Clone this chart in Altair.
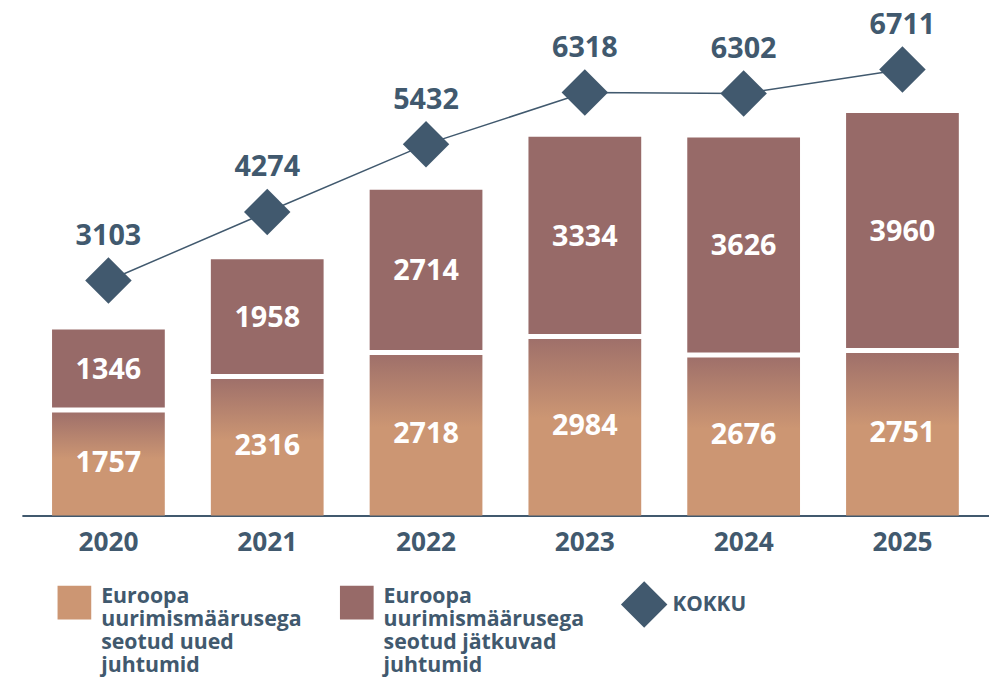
import altair as alt
import pandas as pd

years = ["2020", "2021", "2022", "2023", "2024", "2025"]
uued = [1757, 2316, 2718, 2984, 2676, 2751]
jatkuvad = [1346, 1958, 2714, 3334, 3626, 3960]
kokku = [3103, 4274, 5432, 6318, 6302, 6711]

legend_uued = ["Euroopa", "uurimismäärusega", "seotud uued", "juhtumid"]
legend_jatk = ["Euroopa", "uurimismäärusega", "seotud jätkuvad", "juhtumid"]
legend_kokku = "KOKKU"

C_NEW = "#cc9673"
C_NEW_TOP = "#9f706a"
C_CONT = "#976a68"
C_TOTAL = "#41596e"
FONT = "Open Sans"

df = pd.DataFrame({"year": years, "uued": uued, "jatkuvad": jatkuvad, "kokku": kokku})
df["series"] = "jatkuvad"
df["k"] = legend_kokku
df["mid_new"] = df["uued"] / 2
df["mid_cont"] = df["uued"] + df["jatkuvad"] / 2

W, H = 976, 507
bar_scale = alt.Scale(domain=[0, 8380], nice=False, zero=False)
tot_scale = alt.Scale(domain=[-915, 7678], nice=False, zero=False)

x_enc = alt.X(
    "year:N",
    scale=alt.Scale(paddingInner=0.29, paddingOuter=0.19),
    axis=alt.Axis(
        title=None, ticks=False, domainColor=C_TOTAL, domainWidth=2,
        labelFont=FONT, labelFontSize=26.5, labelFontWeight="bold",
        labelColor=C_TOTAL, labelPadding=14, labelAngle=0,
    ),
)

def lab(lines):
    return "[" + ",".join(["'" + s + "'" for s in lines]) + "]"

label_expr = "datum.value == 'uued' ? " + lab(legend_uued) + " : " + lab(legend_jatk)

base = alt.Chart(df)

top_bars = base.mark_bar(y2Offset=-2.5).encode(
    x=x_enc,
    y=alt.Y("kokku:Q", scale=bar_scale, axis=None),
    y2="uued:Q",
    color=alt.Color(
        "series:N",
        scale=alt.Scale(domain=["uued", "jatkuvad"], range=[C_NEW, C_CONT]),
        legend=alt.Legend(
            title=None, orient="none", legendX=36, legendY=578, direction="horizontal",
            columns=2, columnPadding=38, symbolType="square", symbolSize=1156,
            symbolStrokeWidth=0, labelFont=FONT, labelFontSize=21.5, labelFontWeight="bold",
            labelColor=C_TOTAL, labelOffset=10, labelBaseline="alphabetic",
            labelExpr=label_expr, labelLimit=400, padding=0,
        ),
    ),
)

grad = alt.Gradient(
    gradient="linear",
    stops=[
        alt.GradientStop(color=C_NEW_TOP, offset=0),
        alt.GradientStop(color=C_NEW, offset=0.45),
        alt.GradientStop(color=C_NEW, offset=1),
    ],
    x1=0, x2=0, y1=0, y2=1,
)

bottom_bars = base.mark_bar(yOffset=2.5, fill=grad).encode(
    x=x_enc,
    y=alt.Y("uued:Q", scale=bar_scale, axis=None),
    y2=alt.datum(0),
)

lbl_style = dict(font=FONT, fontSize=29, fontWeight="bold", color="white", baseline="middle")
new_lbl = base.mark_text(**lbl_style).encode(
    x=x_enc, y=alt.Y("mid_new:Q", scale=bar_scale, axis=None), text="uued:Q"
)
cont_lbl = base.mark_text(**lbl_style).encode(
    x=x_enc, y=alt.Y("mid_cont:Q", scale=bar_scale, axis=None), text="jatkuvad:Q"
)

line = base.mark_line(color=C_TOTAL, strokeWidth=1.5).encode(
    x=x_enc, y=alt.Y("kokku:Q", scale=tot_scale, axis=None)
)
pts = base.mark_point(filled=True, fill=C_TOTAL, opacity=1, size=2200, strokeWidth=0).encode(
    x=x_enc,
    y=alt.Y("kokku:Q", scale=tot_scale, axis=None),
    shape=alt.Shape(
        "k:N",
        scale=alt.Scale(domain=[legend_kokku], range=["diamond"]),
        legend=alt.Legend(
            title=None, orient="none", legendX=604.5, legendY=573.5,
            symbolSize=2200, symbolFillColor=C_TOTAL, symbolStrokeWidth=0,
            symbolOpacity=1, labelFont=FONT, labelFontSize=21, labelFontWeight="bold",
            labelColor=C_TOTAL, labelOffset=5, padding=0,
        ),
    ),
)
tot_lbl = base.mark_text(font=FONT, fontSize=29, fontWeight="bold", color=C_TOTAL,
                         baseline="middle", dy=-45).encode(
    x=x_enc, y=alt.Y("kokku:Q", scale=tot_scale, axis=None), text="kokku:Q"
)

chart = (
    alt.layer(top_bars, bottom_bars, new_lbl, cont_lbl, line, pts, tot_lbl)
    .resolve_scale(y="independent")
    .properties(width=W, height=H, padding={"left": 14, "top": 0, "right": 0, "bottom": 0})
    .configure_view(stroke=None)
)

chart.save("out.html", embed_options={"renderer": "svg", "actions": False})
